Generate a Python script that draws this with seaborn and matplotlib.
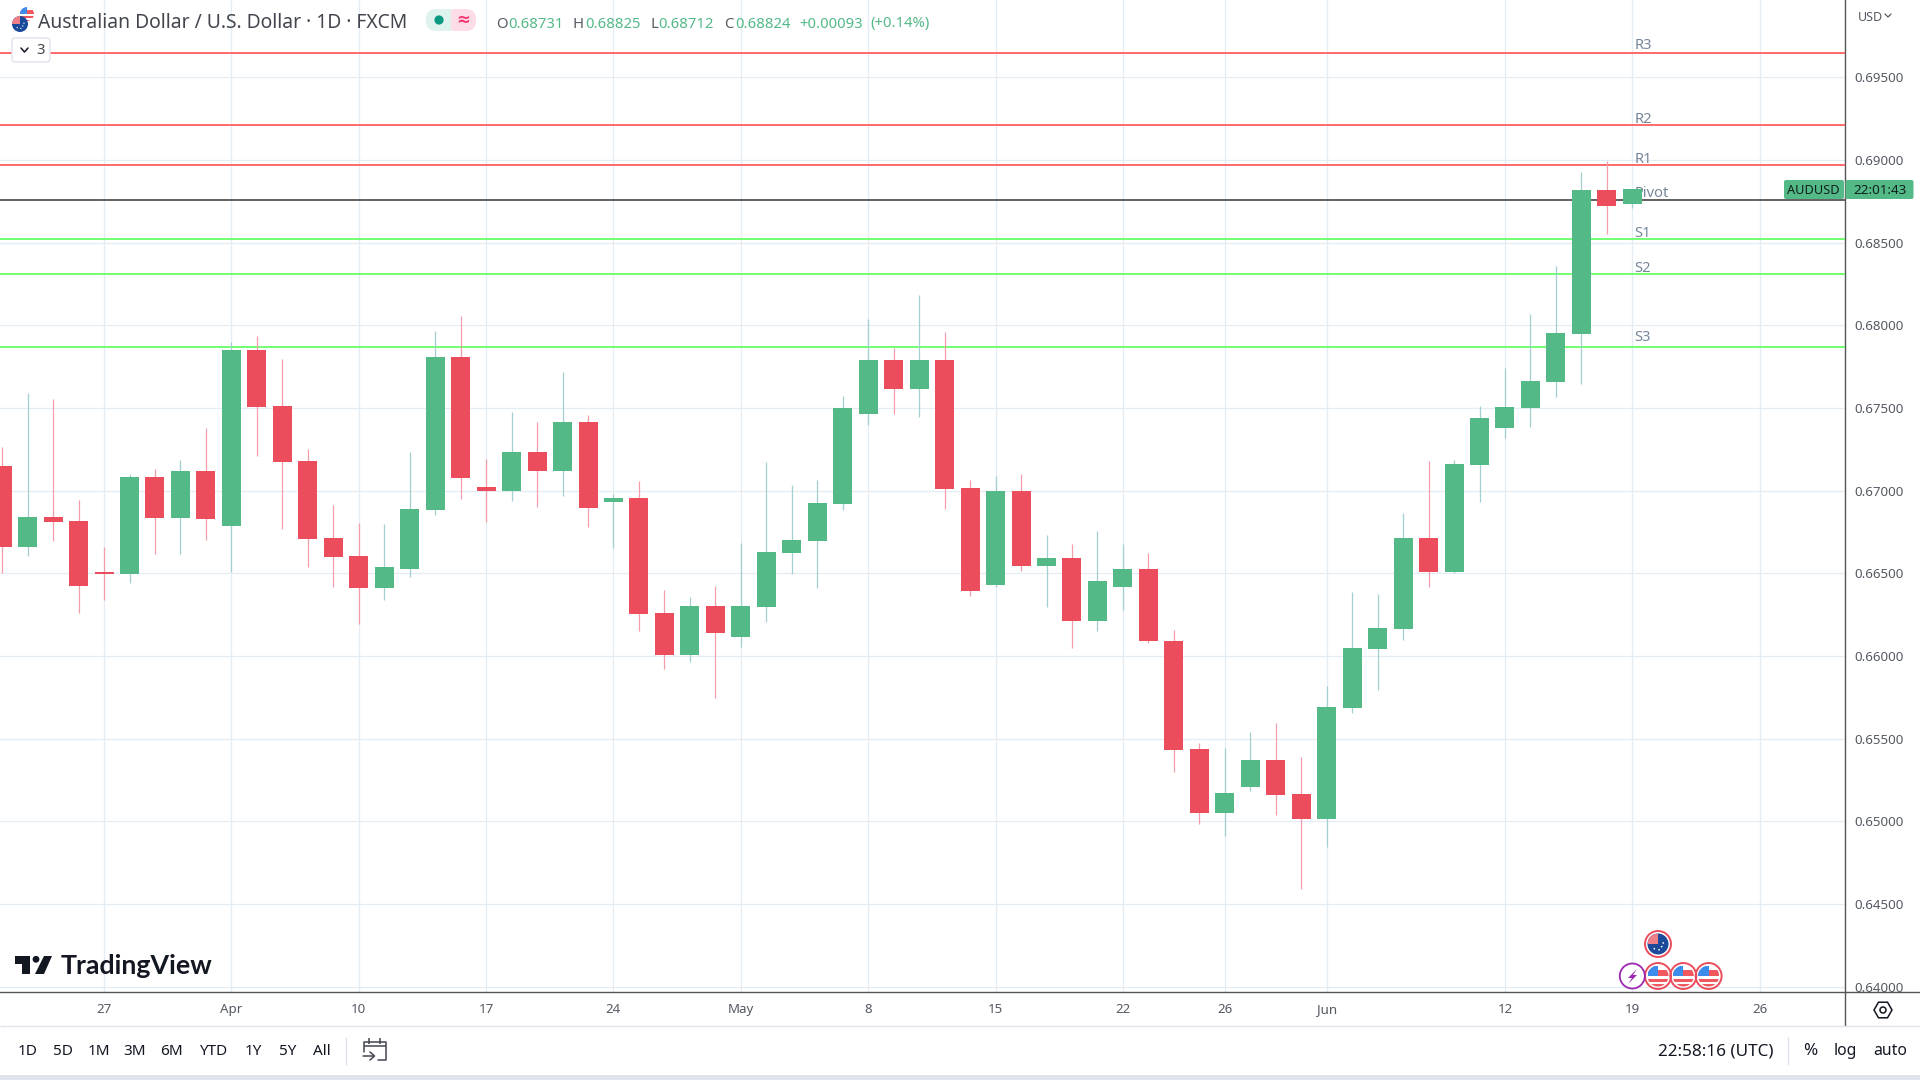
import numpy as np
import pandas as pd
import matplotlib
matplotlib.use("Agg")
import matplotlib.pyplot as plt
import seaborn as sns
from matplotlib.lines import Line2D
from matplotlib.patches import Circle, Rectangle, Polygon, FancyBboxPatch
from matplotlib.ticker import FormatStrFormatter

# ----------------- Chart data -----------------
opens = [.67150, .66661, .66843, .66818, .66510, .66498, .67084, .66836, .67120, .66788,
         .67851, .67513, .67181, .66716, .66607, .66408, .66528, .66885, .67809, .67024,
         .67000, .67235, .67120, .67416, .66933, .66957, .66257, .66003, .66305, .66112,
         .66299, .66625, .66698, .66921, .67465, .67791, .67616, .67791, .67018, .66432,
         .67000, .66547, .66595, .66214, .66414, .66528, .66091, .65439, .65047, .65210,
         .65373, .65167, .65016, .65687, .66043, .66164, .66712, .66508, .67153, .67376,
         .67497, .67660, .67950, .68820, .68731]
highs = [.67265, .67591, .67555, .66945, .66661, .67102, .67132, .67187, .67380, .67899,
         .67936, .67797, .67253, .66915, .66806, .66800, .67235, .67966, .68056, .67193,
         .67477, .67416, .67718, .67459, .66981, .67060, .66396, .66359, .66426, .66685,
         .67175, .67036, .67066, .67573, .68038, .67863, .68183, .67960, .67066, .67090,
         .67102, .66734, .66679, .66758, .66679, .66625, .66158, .65475, .65445, .65542,
         .65596, .65391, .65820, .66387, .66375, .66863, .67177, .67183, .67509, .67739,
         .68071, .68361, .68928, .68995, .68825]
lows = [.66500, .66607, .66698, .66257, .66341, .66444, .66619, .66619, .66704, .66510,
        .67211, .66770, .66535, .66414, .66196, .66341, .66480, .66855, .66951, .66812,
        .66939, .66903, .66969, .66782, .66655, .66148, .65919, .65961, .65743, .66057,
        .66208, .66498, .66408, .66885, .67398, .67465, .67446, .66891, .66365, .66420,
        .66516, .66293, .66051, .66148, .66275, .66076, .65300, .64986, .64908, .65185,
        .65035, .64588, .64847, .65657, .65795, .66097, .66417, .66500, .66930, .67316,
        .67382, .67564, .67648, .68554, .68712]
closes = [.66661, .66843, .66812, .66426, .66498, .67084, .66836, .67120, .66830, .67851,
          .67507, .67175, .66710, .66601, .66408, .66535, .66891, .67809, .67078, .67000,
          .67235, .67120, .67416, .66897, .66957, .66251, .66003, .66305, .66136, .66305,
          .66631, .66704, .66927, .67501, .67791, .67616, .67791, .67012, .66390, .67000,
          .66547, .66595, .66214, .66456, .66528, .66088, .65433, .65047, .65173, .65373,
          .65161, .65016, .65693, .66049, .66170, .66712, .66508, .67159, .67437, .67503,
          .67666, .67956, .68820, .68723, .68824]

level_names = ["R3", "R2", "R1", "Pivot", "S1", "S2", "S3"]
level_values = [.69649, .69212, .68972, .68758, .68524, .68310, .67871]
level_colors = ["#ff5f5f", "#ff5f5f", "#ff5f5f", "#555555", "#66ff66", "#66ff66", "#66ff66"]
level_label_up = [7, 5, 5, 7, 5, 6, 9]

price_ticks = [.640, .645, .650, .655, .660, .665, .670, .675, .680, .685, .690, .695]
date_bars = [-5, 0, 5, 10, 15, 20, 25, 30, 35, 39, 43, 50, 55, 60]
date_labels = ["27", "Apr", "10", "17", "24", "May", "8", "15", "22", "26", "Jun", "12", "19", "26"]
month_labels = ["Apr", "May", "Jun"]

range_buttons = ["1D", "5D", "1M", "3M", "6M", "YTD", "1Y", "5Y", "All"]
range_x = [27.7, 62.7, 99, 135, 171.7, 212.7, 253.3, 287.3, 321.7]

# ----------------- Colours -----------------
UP = "#53b987"
DOWN = "#eb4d5c"
UP_WICK = "#a3cfd0"
DOWN_WICK = "#f59dab"
GRID = "#e3edf3"
AXIS = "#555555"
PANEL = "#e0e3eb"
INK = "#131722"
TICK = "#555a63"

W, H = 1920, 1080
sns.set_theme(style="white")
plt.rcParams["font.family"] = ["Noto Sans", "DejaVu Sans"]

df = pd.DataFrame({"open": opens, "high": highs, "low": lows, "close": closes})
df["bar"] = np.arange(-9, len(df) - 9)
df["bottom"] = df[["open", "close"]].min(axis=1)
df["height"] = (df["open"] - df["close"]).abs()
df["up"] = df["close"] >= df["open"]

fig = plt.figure(figsize=(W / 100, H / 100), dpi=100, facecolor="white")
ax = fig.add_axes([0, (H - 992) / H, 1845.3 / W, 992 / H])

# ----------------- Candles -----------------
for is_up, body_col, wick_col in [(True, UP, UP_WICK), (False, DOWN, DOWN_WICK)]:
    sub = df[df["up"] == is_up]
    ax.vlines(sub["bar"], sub["low"], sub["high"], color=wick_col, lw=0.9, zorder=4)
    sns.barplot(x=sub["bar"].values, y=sub["height"].values, bottom=sub["bottom"].values,
                native_scale=True, color=body_col, saturation=1, width=0.746,
                errorbar=None, linewidth=0, ax=ax, zorder=5)

# pivot levels sit under the candles
for name, val, col, up in zip(level_names, level_values, level_colors, level_label_up):
    ax.axhline(val, color=col, lw=1.3, zorder=3)
    ax.annotate(name, (55.08, val), xytext=(0, up * 0.72), textcoords="offset points",
                color="#77879a", fontsize=10.6, va="center", ha="left", zorder=2,
                annotation_clip=False)

ax.set_xlim(-9.085, 63.36)
ax.set_ylim(0.63967, 0.69968)
ax.set_xlabel("")
ax.set_ylabel("")
ax.yaxis.tick_right()
ax.set_yticks(price_ticks)
ax.yaxis.set_major_formatter(FormatStrFormatter("%.5f"))
ax.set_xticks(date_bars)
ax.set_xticklabels(date_labels)
ax.tick_params(axis="y", length=0, pad=6.2, labelsize=9.6, labelcolor=TICK)
ax.tick_params(axis="x", length=0, pad=8.2, labelsize=9.6, labelcolor=TICK)
for lab in ax.get_xticklabels():
    if lab.get_text() in month_labels:
        lab.set_fontweight("bold")
ax.grid(True, color=GRID, lw=0.9)
ax.set_axisbelow(True)
sns.despine(ax=ax, top=True, left=True, right=False, bottom=False)
for side in ["right", "bottom"]:
    ax.spines[side].set_color(AXIS)
    ax.spines[side].set_linewidth(1.0)

# ----------------- Overlay in pixel coordinates -----------------
ov = fig.add_axes([0, 0, 1, 1], zorder=10)
ov.set_xlim(0, W)
ov.set_ylim(H, 0)
ov.axis("off")
ov.patch.set_alpha(0)


def put(x, y, s, color=INK, size=10, ha="left", weight="normal", family=None):
    return ov.text(x, y, s, color=color, fontsize=size, ha=ha, va="center",
                   fontweight=weight, family=family or plt.rcParams["font.family"])


def seg(x0, y0, x1, y1, color=PANEL, lw=1.0):
    ov.add_line(Line2D([x0, x1], [y0, y1], color=color, lw=lw, solid_capstyle="butt"))


def us_flag(cx, cy, r, ring=None):
    clip = Circle((cx, cy), r, transform=ov.transData)
    ov.add_patch(Circle((cx, cy), r, fc="white", ec="none"))
    for k in range(3):
        bar = Rectangle((cx - r, cy - r * 0.3 + k * r * 0.55), 2 * r, r * 0.3, fc="#f0575f", ec="none")
        ov.add_patch(bar)
        bar.set_clip_path(clip)
    top = Rectangle((cx - r, cy - r * 0.6), 2 * r, r * 0.3, fc="#f0575f", ec="none")
    ov.add_patch(top)
    top.set_clip_path(clip)
    canton = Rectangle((cx - r, cy - r), r, r, fc="#3d8bea", ec="none")
    ov.add_patch(canton)
    canton.set_clip_path(clip)
    if ring:
        ov.add_patch(Circle((cx, cy), r + 2.5, fc="none", ec=ring, lw=1.4))


def au_flag(cx, cy, r, ring=None):
    ov.add_patch(Circle((cx, cy), r, fc="#1c4a9a", ec="none"))
    q = Rectangle((cx - r, cy - r), r, r, fc="#ee7f88", ec="none")
    ov.add_patch(q)
    q.set_clip_path(Circle((cx, cy), r, transform=ov.transData))
    for dx, dy in [(0.1, 0.55), (0.5, -0.1), (0.35, 0.25), (-0.35, 0.45)]:
        ov.add_patch(Circle((cx + dx * r, cy + dy * r), r * 0.08, fc="white", ec="none"))
    if ring:
        ov.add_patch(Circle((cx, cy), r + 2.5, fc="none", ec=ring, lw=1.4))


# panel separators
seg(1845.3, 992, 1845.3, 1026, AXIS, 1.0)
seg(1845.3, 992, W, 992, AXIS, 1.0)
seg(0, 1026, W, 1026, PANEL, 1.0)
ov.add_patch(Rectangle((0, 1075), W, 5, fc=PANEL, ec="none"))

# header
us_flag(27, 14, 7)
au_flag(20, 24, 8)
put(38.5, 23.5, "Australian Dollar / U.S. Dollar · 1D · FXCM", "#43464e", 13.9)
ov.add_patch(FancyBboxPatch((426, 9), 30, 22, boxstyle="round,pad=0,rounding_size=10", fc="#dff3ee", ec="none"))
ov.add_patch(FancyBboxPatch((446, 9), 30, 22, boxstyle="round,pad=0,rounding_size=10", fc="#fcdce6", ec="none"))
ov.add_patch(Rectangle((440, 9), 11, 22, fc="#dff3ee", ec="none"))
ov.add_patch(Circle((439, 20), 4.6, fc="#089981", ec="none"))
put(463, 20, "≈", "#f23672", 12, ha="center", weight="bold", family="DejaVu Sans")

for x, s, col in [(496, "O", TICK), (508, "0.68731", UP), (573, "H", TICK), (585, "0.68825", UP),
                  (650, "L", TICK), (658, "0.68712", UP), (724, "C", TICK), (735, "0.68824", UP),
                  (799, "+0.00093", UP), (870, "(+0.14%)", UP)]:
    put(x, 24, s, col, 10.7)

ov.add_patch(FancyBboxPatch((12, 38), 38, 24, boxstyle="round,pad=0,rounding_size=3", fc="white", ec=PANEL, lw=1.0))
ov.add_line(Line2D([21, 24.5, 28], [48, 52, 48], color=INK, lw=1.1))
put(36, 51, "3", "#43464e", 10.8)

# right axis tags
put(1857.5, 17.5, "USD", TICK, 9)
ov.add_line(Line2D([1885, 1888, 1891], [14, 17, 14], color=TICK, lw=0.9))
ov.add_patch(FancyBboxPatch((1784, 180), 60, 19, boxstyle="round,pad=0,rounding_size=2", fc=UP, ec="none"))
ov.add_patch(FancyBboxPatch((1845.5, 180), 68, 19, boxstyle="round,pad=0,rounding_size=2", fc=UP, ec="none"))
put(1813.5, 190.5, "AUDUSD", "#10201a", 9.2, ha="center")
put(1879.5, 190.5, "22:01:43", "#10201a", 9.7, ha="center")

# TradingView logo
ov.add_patch(Polygon([(15, 956), (30, 956), (30, 974), (22, 974), (22, 964), (15, 964)], fc=INK, ec="none"))
ov.add_patch(Circle((36, 959.3), 3.4, fc=INK, ec="none"))
ov.add_patch(Polygon([(44, 956), (52, 956), (44, 974), (35, 974)], fc=INK, ec="none"))
put(61, 966.5, "TradingView", INK, 19.3, weight="bold", family="Lato")

# event icons
au_flag(1658, 944, 10.5, ring=DOWN)
for cx in [1658, 1683.3, 1708.6]:
    us_flag(cx, 976, 10.5, ring=DOWN)
ov.add_patch(Circle((1632.3, 976), 12.5, fc="white", ec="#9c27b0", lw=1.3))
ov.add_patch(Polygon([(1637, 969), (1628, 978), (1632, 978), (1628, 984), (1637, 975), (1633, 975)],
                     fc="#9c27b0", ec="none"))

# settings hexagon
hx = 1883 + 9 * np.cos(np.arange(6) * np.pi / 3)
hy = 1010 + 9 * np.sin(np.arange(6) * np.pi / 3)
ov.add_patch(Polygon(np.column_stack([hx, hy]), fc="none", ec=INK, lw=1.1))
ov.add_patch(Circle((1883, 1010), 3, fc="none", ec=INK, lw=1.1))

# bottom toolbar
for x, s in zip(range_x, range_buttons):
    put(x, 1051.5, s, INK, 11, ha="center")
seg(345.7, 1037, 345.7, 1065)
seg(1788, 1037, 1788, 1065)
CAL = "#43464e"
ov.add_line(Line2D([364, 364, 386, 386, 378], [1052, 1042, 1042, 1060, 1060], color=CAL, lw=1.1))
seg(364, 1046, 386, 1046, CAL, 1.1)
seg(369, 1038, 369, 1044, CAL, 1.1)
seg(380, 1038, 380, 1044, CAL, 1.1)
ov.add_line(Line2D([363, 374], [1056, 1056], color=CAL, lw=1.1))
ov.add_line(Line2D([370, 374.5, 370], [1052, 1056, 1060], color=CAL, lw=1.1))
put(1716, 1051, "22:58:16 (UTC)", INK, 12.3, ha="center")
put(1810.7, 1051, "%", INK, 12.3, ha="center")
put(1845.7, 1051, "log", INK, 11.3, ha="center")
put(1890, 1051, "auto", INK, 11.3, ha="center")

fig.savefig("out.png", dpi=100, facecolor="white")
